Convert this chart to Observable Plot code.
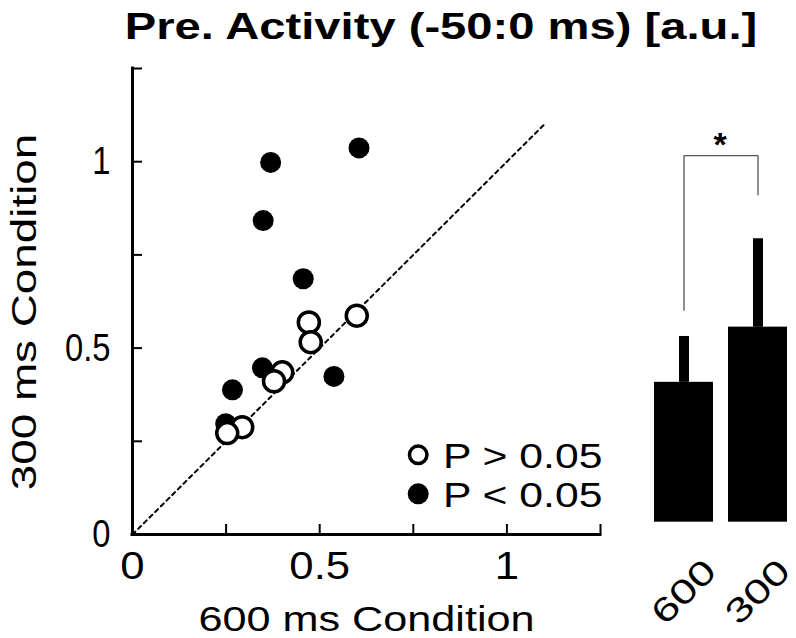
<!DOCTYPE html>
<html><head><meta charset="utf-8">
<script src="https://cdn.jsdelivr.net/npm/d3@7"></script>
<script src="https://cdn.jsdelivr.net/npm/@observablehq/plot@0.6"></script>
<style>
html,body{margin:0;padding:0;background:#fff;}
#wrap{position:relative;width:796px;height:638px;overflow:hidden;font-family:"Liberation Sans",Arial,sans-serif;}
#title{position:absolute;left:441px;top:0;height:52px;line-height:54px;font-size:36px;font-weight:bold;white-space:nowrap;transform:translateX(-50%) scaleX(1.31);color:#000;}
.panel{position:absolute;left:0;top:52px;}
</style></head><body>
<div id="wrap">
  <div id="title">Pre. Activity (-50:0 ms) [a.u.]</div>
  <div id="scatter" class="panel"></div>
  <div id="bars" class="panel"></div>
</div>
<script>
// ---- data ----
const sig600 = [0.605, 0.369, 0.349, 0.456, 0.347, 0.538, 0.267, 0.249];
const sig300 = [1.037, 0.998, 0.842, 0.686, 0.447, 0.424, 0.388, 0.297];
const ns600 = [0.599, 0.471, 0.476, 0.400, 0.378, 0.293, 0.253];
const ns300 = [0.587, 0.569, 0.516, 0.435, 0.411, 0.288, 0.272];
const axisTicks = [0, 0.25, 0.5, 0.75, 1, 1.25];
const tickLabels = [0, 0.5, 1];
const diagonal = [0, 1.1];
const legendLabels = ["P > 0.05", "P < 0.05"];
const xTitle = "600 ms Condition";
const yTitle = "300 ms Condition";
const barConds = ["600", "300"];
const barMeans = [0.375, 0.523];
const barErrs = [0.123, 0.237];
const bracketLeft = 0.568, bracketTop = 0.983, bracketRight = 0.878;
const sigMark = "*";

const FONT = '"Liberation Sans", Arial, sans-serif';
const sigPts = sig600.map((x, i) => ({x, y: sig300[i]}));
const nsPts = ns600.map((x, i) => ({x, y: ns300[i]}));

const scatter = Plot.plot({
  width: 796, height: 588,
  marginLeft: 132, marginRight: 196, marginTop: 16, marginBottom: 106,
  style: {fontFamily: FONT, background: "transparent", color: "black", overflow: "visible"},
  x: {domain: [0, 1.25]},
  y: {domain: [0, 1.25]},
  marks: [
    Plot.line(diagonal, {x: d => d, y: d => d, stroke: "black", strokeWidth: 2, strokeDasharray: "4,4"}),
    Plot.ruleX([0], {stroke: "black", strokeWidth: 3, strokeLinecap: "square"}),
    Plot.ruleY([0], {stroke: "black", strokeWidth: 3, strokeLinecap: "square"}),
    Plot.tickX(axisTicks, {x: d => d, insetTop: 456, stroke: "black", strokeWidth: 2}),
    Plot.tickY(axisTicks, {y: d => d, insetRight: 458, stroke: "black", strokeWidth: 2}),
    Plot.axisX({ticks: tickLabels, tickSize: 0, tickPadding: 18, fontSize: 38, tickFormat: d => String(d), label: null}),
    Plot.axisY({ticks: tickLabels, tickSize: 0, tickPadding: 22, fontSize: 39, tickFormat: d => String(d), label: null}),
    Plot.text([xTitle], {frameAnchor: "bottom", textAnchor: "middle", lineAnchor: "bottom", dy: 96, fontSize: 36, fill: "black"}),
    Plot.text([yTitle], {frameAnchor: "left", textAnchor: "middle", rotate: -90, lineAnchor: "bottom", dx: -97, dy: 10.5, fontSize: 35, fill: "black"}),
    Plot.dot(sigPts, {x: "x", y: "y", r: 10.5, fill: "black"}),
    Plot.dot(nsPts, {x: "x", y: "y", r: 10.5, fill: "white", stroke: "black", strokeWidth: 3.5}),
    Plot.dot([legendLabels[0]], {frameAnchor: "bottom-right", dx: -182.3, dy: -79.7, r: 8.75, fill: "white", stroke: "black", strokeWidth: 3.5}),
    Plot.dot([legendLabels[1]], {frameAnchor: "bottom-right", dx: -182.3, dy: -40.7, r: 10.5, fill: "black"}),
    Plot.text([legendLabels[0]], {frameAnchor: "bottom-right", textAnchor: "start", lineAnchor: "middle", dx: -157.5, dy: -77.5, fontSize: 35, fill: "black"}),
    Plot.text([legendLabels[1]], {frameAnchor: "bottom-right", textAnchor: "start", lineAnchor: "middle", dx: -157.5, dy: -38.5, fontSize: 35, fill: "black"})
  ]
});

const barData = barConds.map((c, i) => ({cond: c, mean: barMeans[i], err: barErrs[i]}));
const bracketPts = [
  {cond: barConds[0], v: bracketLeft},
  {cond: barConds[0], v: bracketTop},
  {cond: barConds[1], v: bracketTop},
  {cond: barConds[1], v: bracketRight}
];

const bars = Plot.plot({
  width: 796, height: 588,
  marginLeft: 654.3, marginRight: 8.3, marginTop: 3.5, marginBottom: 118.3,
  style: {fontFamily: FONT, background: "transparent", color: "black", overflow: "visible"},
  x: {type: "band", domain: barConds, paddingInner: 0.2, paddingOuter: 0, axis: null},
  y: {domain: [0, 1.25], axis: null},
  marks: [
    Plot.ruleX(barData, {x: "cond", y1: "mean", y2: d => d.mean + d.err, stroke: "black", strokeWidth: 10}),
    Plot.barY(barData, {x: "cond", y: "mean", fill: "black"}),
    Plot.line(bracketPts, {x: "cond", y: "v", stroke: "#555", strokeWidth: 1.3}),
    Plot.text([sigMark], {x: () => barConds[0], y: () => bracketTop, dx: 36, dy: -10, fontSize: 34, fontWeight: "bold", fill: "black"}),
    Plot.text(barConds, {x: d => d, frameAnchor: "bottom", textAnchor: "middle", rotate: -45, lineAnchor: "middle", dy: 70, fontSize: 34, fill: "black"})
  ]
});

// Horizontal glyph stretch, matching the reference's widened lettering
function stretch(svg, filter, sx) {
  d3.select(svg).selectAll("text").filter(filter).each(function () {
    const t = this.getAttribute("transform") || "";
    this.setAttribute("transform", t + ` scale(${sx},1)`);
  });
}
const inGroup = label => function () { return this.parentNode && this.parentNode.getAttribute("aria-label") === label; };
const hasText = list => function () { return list.includes(this.textContent); };
stretch(scatter, inGroup("x-axis tick label"), 1.15);
stretch(scatter, inGroup("y-axis tick label"), 0.84);
stretch(scatter, hasText([xTitle]), 1.2);
stretch(scatter, hasText([yTitle]), 1.31);
stretch(scatter, hasText(legendLabels), 1.22);
stretch(bars, hasText(barConds), 1.33);

document.getElementById("scatter").appendChild(scatter);
document.getElementById("bars").appendChild(bars);
</script>
</body></html>
